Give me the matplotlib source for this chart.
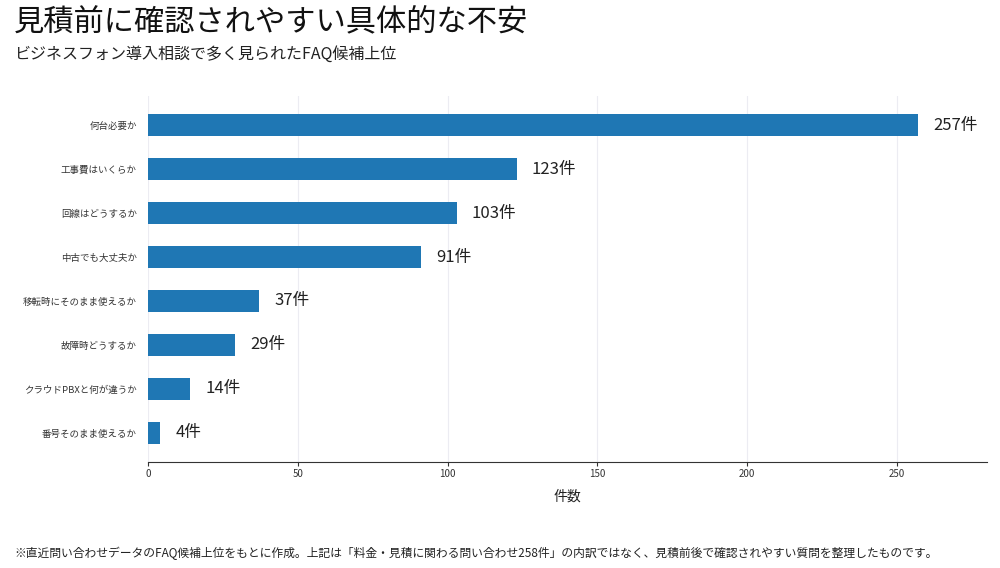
import matplotlib
matplotlib.use("Agg")
import matplotlib.pyplot as plt

plt.rcParams['font.family'] = ['Noto Sans CJK JP', 'DejaVu Sans']

categories = ["何台必要か", "工事費はいくらか", "回線はどうするか", "中古でも大丈夫か",
              "移転時にそのまま使えるか", "故障時どうするか", "クラウドPBXと何が違うか", "番号そのまま使えるか"]
counts = [257, 123, 103, 91, 37, 29, 14, 4]
xticks = [0, 50, 100, 150, 200, 250]

fig = plt.figure(figsize=(10, 5.68), dpi=100)
ax = fig.add_axes([0.148, 0.1866, 0.839, 0.6444])

ypos = list(range(len(categories)))
ax.barh(ypos, counts, height=0.5, color="#1f77b4", zorder=2)
ax.set_yticks(ypos)
ax.set_yticklabels(categories, fontsize=6.8, color="#333333")
ax.set_ylim(len(categories) - 1 + 0.66, -0.66)
ax.set_xlim(0, 280)
ax.set_xticks(xticks)
ax.set_xticklabels([str(t) for t in xticks], fontsize=7, color="#333333")
ax.tick_params(axis='y', length=0, pad=8)
ax.tick_params(axis='x', length=3, color="#333333", pad=2)
ax.grid(axis='x', color="#ececf2", linewidth=0.8, zorder=0)
for s in ['top', 'right', 'left']:
    ax.spines[s].set_visible(False)
ax.spines['bottom'].set_color("#333333")
ax.set_xlabel("件数", fontsize=10, labelpad=8, color="#222222")

for y, v in zip(ypos, counts):
    ax.annotate(f"{v}件", xy=(v, y), xytext=(11, 0), textcoords="offset points",
                va="center", ha="left", fontsize=12, color="#222222")

fig.text(0.014, 0.962, "見積前に確認されやすい具体的な不安", fontsize=21.8, va="center", ha="left", color="#111111")
fig.text(0.014, 0.905, "ビジネスフォン導入相談で多く見られたFAQ候補上位", fontsize=11.5, va="center", ha="left", color="#222222")
fig.text(0.014, 0.026, "※直近問い合わせデータのFAQ候補上位をもとに作成。上記は「料金・見積に関わる問い合わせ258件」の内訳ではなく、見積前後で確認されやすい質問を整理したものです。",
         fontsize=8.5, va="center", ha="left", color="#222222")

fig.savefig("out.png", dpi=100, facecolor="white")
